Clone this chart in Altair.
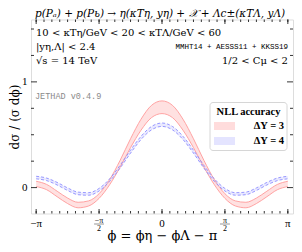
import altair as alt
import pandas as pd

# ---------------- data ----------------
phi = [-3.1416, -2.8798, -2.6180, -2.3562, -2.0944, -1.8326, -1.5708, -1.3090, -1.0472,
       -0.7854, -0.5236, -0.2618, 0.0, 0.2618, 0.5236, 0.7854, 1.0472, 1.3090, 1.5708,
       1.8326, 2.0944, 2.3562, 2.6180, 2.8798, 3.1416]
red_hi = [0.060, 0.030, -0.034, -0.099, -0.139, -0.126, -0.058, 0.074, 0.257, 0.462, 0.647, 0.778, 0.820,
          0.778, 0.647, 0.462, 0.257, 0.074, -0.058, -0.126, -0.139, -0.099, -0.034, 0.030, 0.060]
red_lo = [0.010, -0.020, -0.086, -0.151, -0.191, -0.174, -0.102, 0.026, 0.193, 0.378, 0.543, 0.662, 0.700,
          0.662, 0.543, 0.378, 0.193, 0.026, -0.102, -0.174, -0.191, -0.151, -0.086, -0.020, 0.010]
blue_hi = [0.107, 0.090, 0.049, -0.003, -0.043, -0.048, -0.008, 0.082, 0.210, 0.354, 0.485, 0.578, 0.611,
           0.578, 0.485, 0.354, 0.210, 0.082, -0.008, -0.048, -0.043, -0.003, 0.049, 0.090, 0.107]
blue_lo = [0.083, 0.066, 0.025, -0.027, -0.067, -0.072, -0.032, 0.058, 0.184, 0.326, 0.455, 0.546, 0.579,
           0.546, 0.455, 0.326, 0.184, 0.058, -0.032, -0.072, -0.067, -0.027, 0.025, 0.066, 0.083]

x_major_ticks = [-3.1416, -1.5708, 0.0, 1.5708, 3.1416]
x_minor_ticks = [k * 3.14159265 / 16 for k in range(-16, 17)]
y_major_ticks = [0.0, 1.0]
y_minor_ticks = [0.25, 0.5, 0.75, 1.25, 1.5]
x_label_top = ["−π", "−π", "0", "π", "π"]
x_label_den = ["", "2", "", "2", ""]

W, H = 262, 194
SERIF = "DejaVu Serif"
LSERIF = "Liberation Serif"
MONO = "Liberation Mono"

xs = alt.Scale(domain=[-3.27, 3.27], nice=False, zero=False)
ys = alt.Scale(domain=[-0.245, 1.59], nice=False, zero=False)

df = pd.DataFrame({"phi": phi, "red_hi": red_hi, "red_lo": red_lo,
                   "blue_hi": blue_hi, "blue_lo": blue_lo})

base = alt.Chart(df)

red_area = base.mark_area(color="#ffdcdc", opacity=0.85, interpolate="monotone").encode(
    x=alt.X("phi:Q", scale=xs, axis=alt.Axis(labels=False, ticks=False, domain=False, grid=False,
            title="ϕ = ϕη − ϕΛ − π", titleFont=SERIF, titleFontSize=13, titleFontWeight="normal",
            titlePadding=16, titleColor="black")),
    y=alt.Y("red_lo:Q", scale=ys, axis=alt.Axis(values=[0, 1], format="d", ticks=False, domain=False, grid=False,
            labelFont=LSERIF, labelFontSize=11, labelPadding=4, labelColor="black",
            title="dσ / (σ dϕ)", titleFont=SERIF, titleFontSize=12, titleFontWeight="normal",
            titlePadding=0, titleColor="black")),
    y2="red_hi:Q",
)
blue_area = base.mark_area(color="#e4e4ff", opacity=0.8, interpolate="monotone").encode(
    x=alt.X("phi:Q", scale=xs), y=alt.Y("blue_lo:Q", scale=ys), y2="blue_hi:Q")

def line(field, color, dash=None):
    kw = dict(color=color, strokeWidth=0.9, interpolate="monotone")
    if dash:
        kw["strokeDash"] = dash
    return base.mark_line(**kw).encode(x=alt.X("phi:Q", scale=xs), y=alt.Y(field + ":Q", scale=ys))

layers = [red_area, blue_area,
          line("red_hi", "#ff9a9a"), line("red_lo", "#ff9a9a"),
          line("blue_hi", "#8c8cff", [3, 2]), line("blue_lo", "#8c8cff", [3, 2])]

# inward ticks drawn through the scales
def xticks(vals, length):
    d = pd.DataFrame({"v": vals})
    b = alt.Chart(d).mark_rule(color="black", strokeWidth=0.8).encode(
        x=alt.X("v:Q", scale=xs), y=alt.value(H), y2=alt.value(H - length))
    t = alt.Chart(d).mark_rule(color="black", strokeWidth=0.8).encode(
        x=alt.X("v:Q", scale=xs), y=alt.value(0), y2=alt.value(length))
    return [b, t]

def yticks(vals, length):
    d = pd.DataFrame({"v": vals})
    l = alt.Chart(d).mark_rule(color="black", strokeWidth=0.8).encode(
        y=alt.Y("v:Q", scale=ys), x=alt.value(0), x2=alt.value(length))
    r = alt.Chart(d).mark_rule(color="black", strokeWidth=0.8).encode(
        y=alt.Y("v:Q", scale=ys), x=alt.value(W), x2=alt.value(W - length))
    return [l, r]

layers += xticks(x_minor_ticks, 2.5) + xticks(x_major_ticks, 4.5)
layers += yticks(y_minor_ticks, 3) + yticks(y_major_ticks, 6)

# x tick labels (with fractions)
lab = pd.DataFrame({"v": x_major_ticks, "top": x_label_top, "den": x_label_den})
whole = lab[lab["den"] == ""]
frac = lab[lab["den"] != ""]
layers.append(alt.Chart(whole).mark_text(font=LSERIF, fontSize=11, baseline="middle", color="black").encode(
    x=alt.X("v:Q", scale=xs), y=alt.value(H + 10), text="top:N"))
layers.append(alt.Chart(frac).mark_text(font=LSERIF, fontSize=8, baseline="alphabetic", color="black").encode(
    x=alt.X("v:Q", scale=xs), y=alt.value(H + 9), text="top:N"))
layers.append(alt.Chart(frac).mark_text(font=LSERIF, fontSize=8, baseline="top", color="black").encode(
    x=alt.X("v:Q", scale=xs), y=alt.value(H + 11.5), text="den:N"))
layers.append(alt.Chart(frac).mark_tick(orient="horizontal", size=10, thickness=0.6, color="black").encode(
    x=alt.X("v:Q", scale=xs), y=alt.value(H + 10.5)))

one = pd.DataFrame({"a": [0]})

def txt(s, x, y, size, font=SERIF, align="left", color="black", weight="normal", style="normal"):
    return alt.Chart(one).mark_text(text=s, font=font, fontSize=size, align=align, baseline="middle",
                                    color=color, fontWeight=weight, fontStyle=style).encode(
        x=alt.value(x), y=alt.value(y))

layers += [
    txt("p(Pₐ) + p(Pь) → η(κTη, yη) + 𝒳 + Λc±(κTΛ, yΛ)", W / 2 - 2, -5.5, 10.5, align="center", style="italic"),
    txt("10 < κTη/GeV < 20 < κTΛ/GeV < 60", 5, 13.5, 10),
    txt("|yη,Λ| < 2.4", 5, 27.5, 10),
    txt("√s = 14 TeV", 5, 41.5, 10),
    txt("MMHT14 + AESSS11 + KKSS19", 257, 27.5, 7.5, font=MONO, align="right"),
    txt("1/2 < Cμ < 2", 257, 41.5, 10, align="right"),
    txt("JETHAD v0.4.9", 4, 76, 8.5, font=MONO, color="#8a8a8a"),
]

# legend
def rect(x1, x2, y1, y2, fill, stroke=None, r=0, sw=0.8):
    kw = dict(fill=fill, cornerRadius=r)
    if stroke:
        kw.update(stroke=stroke, strokeWidth=sw)
    return alt.Chart(one).mark_rect(**kw).encode(
        x=alt.value(x1), x2=alt.value(x2), y=alt.value(y1), y2=alt.value(y2))

layers += [
    rect(179, 256, 83, 131, "white", stroke="#cccccc", r=3),
    txt("NLL accuracy", 217.5, 92.5, 10.5, font=LSERIF, align="center", weight="bold"),
    rect(183, 204, 102.5, 110.5, "#ffdcdc"),
    txt("ΔY = 3", 253, 106.5, 10.5, font=LSERIF, align="right", weight="bold"),
    rect(183, 204, 117.5, 125.5, "#e4e4ff"),
    txt("ΔY = 4", 253, 121.5, 10.5, font=LSERIF, align="right", weight="bold"),
]

chart = alt.layer(*layers).properties(
    width=W, height=H,
    autosize=alt.AutoSizeParams(type="none"),
    padding={"left": 23, "top": 11.5, "right": 1, "bottom": 30},
).configure_view(stroke="black", strokeWidth=0.9).configure(background="white")

chart.save("out.html", embed_options={"renderer": "svg", "actions": False})
